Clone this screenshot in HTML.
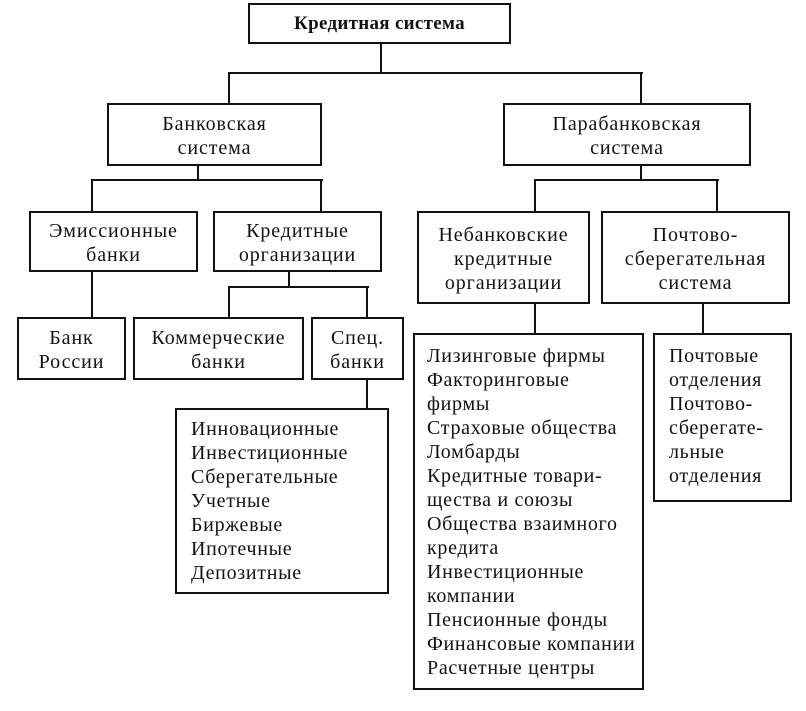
<!DOCTYPE html>
<html><head><meta charset="utf-8"><style>
body{margin:0;width:806px;height:711px;background:#fff;position:relative;overflow:hidden;font-family:"Liberation Serif","DejaVu Serif",serif;color:#111;}
.b{position:absolute;border:2px solid #111;box-sizing:border-box;display:flex;flex-direction:column;justify-content:center;align-items:center;text-align:center;font-size:20px;line-height:24px;letter-spacing:0.9px;padding-top:3px;}
.l{position:absolute;border:2px solid #111;box-sizing:border-box;font-size:20px;line-height:24px;letter-spacing:0.7px;white-space:nowrap;}
.h{position:absolute;background:#111;height:2px;}
.v{position:absolute;background:#111;width:2px;}
</style></head><body>
<div class="b" style="left:248px;top:3px;width:263px;height:41px;font-weight:bold;font-size:19px;letter-spacing:0.3px;padding-top:0">Кредитная система</div>
<div class="v" style="left:380px;top:43px;height:31px"></div>
<div class="h" style="left:228px;top:72px;width:415px"></div>
<div class="v" style="left:228px;top:72px;height:32px"></div>
<div class="v" style="left:640px;top:72px;height:32px"></div>

<div class="b" style="left:107px;top:103px;width:215px;height:63px;">Банковская<br>система</div>
<div class="b" style="left:503px;top:103px;width:248px;height:63px;">Парабанковская<br>система</div>

<div class="v" style="left:197px;top:165px;height:16px"></div>
<div class="h" style="left:91px;top:179px;width:232px"></div>
<div class="v" style="left:91px;top:179px;height:33px"></div>
<div class="v" style="left:320px;top:179px;height:33px"></div>

<div class="v" style="left:640px;top:165px;height:16px"></div>
<div class="h" style="left:534px;top:179px;width:185px"></div>
<div class="v" style="left:534px;top:179px;height:33px"></div>
<div class="v" style="left:716px;top:179px;height:33px"></div>

<div class="b" style="left:29px;top:211px;width:169px;height:61px;">Эмиссионные<br>банки</div>
<div class="b" style="left:213px;top:211px;width:169px;height:61px;">Кредитные<br>организации</div>
<div class="b" style="left:417px;top:211px;width:173px;height:93px;">Небанковские<br>кредитные<br>организации</div>
<div class="b" style="left:601px;top:211px;width:189px;height:93px;">Почтово-<br>сберегательная<br>система</div>

<div class="v" style="left:91px;top:271px;height:47px"></div>
<div class="v" style="left:288px;top:271px;height:17px"></div>
<div class="h" style="left:228px;top:286px;width:141px"></div>
<div class="v" style="left:228px;top:286px;height:32px"></div>
<div class="v" style="left:366px;top:286px;height:32px"></div>

<div class="b" style="left:17px;top:317px;width:109px;height:63px;">Банк<br>России</div>
<div class="b" style="left:133px;top:317px;width:171px;height:63px;">Коммерческие<br>банки</div>
<div class="b" style="left:311px;top:317px;width:93px;height:63px;">Спец.<br>банки</div>

<div class="v" style="left:366px;top:379px;height:30px"></div>
<div class="l" style="left:175px;top:408px;width:214px;height:186px;padding:7px 0 0 14px;">Инновационные<br>Инвестиционные<br>Сберегательные<br>Учетные<br>Биржевые<br>Ипотечные<br>Депозитные</div>

<div class="v" style="left:534px;top:303px;height:31px"></div>
<div class="v" style="left:702px;top:303px;height:31px"></div>

<div class="l" style="left:413px;top:333px;width:231px;height:357px;padding:9px 0 0 12px;">Лизинговые фирмы<br>Факторинговые<br>фирмы<br>Страховые общества<br>Ломбарды<br>Кредитные товари-<br>щества и союзы<br>Общества взаимного<br>кредита<br>Инвестиционные<br>компании<br>Пенсионные фонды<br>Финансовые компании<br>Расчетные центры</div>

<div class="l" style="left:653px;top:333px;width:139px;height:169px;padding:9px 0 0 14px;">Почтовые<br>отделения<br>Почтово-<br>сберегате-<br>льные<br>отделения</div>
</body></html>
